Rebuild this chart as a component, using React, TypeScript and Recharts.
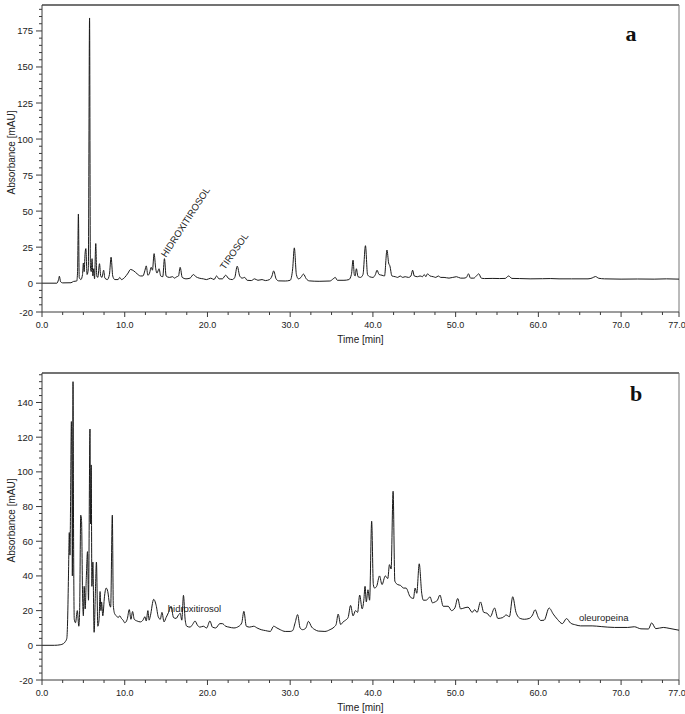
import React from 'react';
import { LineChart, Line, XAxis, YAxis, ReferenceDot, ReferenceLine } from 'recharts';

// panel a: time [min] / absorbance [mAU]
const timeA = [
  0, 1.8, 2.0, 2.1, 2.25, 2.5, 3.5, 3.8, 4.2, 4.3, 4.4, 4.5, 4.7, 4.9, 5.0, 5.1, 5.2, 5.3, 5.45, 5.6,
  5.75, 5.85, 5.95, 6.05, 6.15, 6.25, 6.35, 6.5, 6.62, 6.75, 6.95, 7.1, 7.25, 7.45, 7.6, 7.9, 8.15, 8.35, 8.55, 8.8,
  9.2, 9.4, 9.6, 10.0, 10.4, 10.7, 11.1, 11.5, 11.9, 12.2, 12.45, 12.6, 12.8, 13.0, 13.2, 13.35, 13.55, 13.75, 13.9, 14.15,
  14.35, 14.6, 14.8, 15.0, 15.4, 15.8, 16.0, 16.3, 16.5, 16.7, 16.95, 17.4, 17.9, 18.3, 18.6, 19.0, 19.5, 19.9, 20.4, 20.8,
  21.1, 21.4, 21.8, 22.2, 22.6, 23.0, 23.3, 23.6, 23.9, 24.2, 24.5, 24.8, 25.3, 25.7, 26.1, 26.6, 27.0, 27.5, 27.8, 28.0,
  28.3, 28.6, 29.4, 30.0, 30.3, 30.5, 30.75, 31.0, 31.3, 31.6, 31.95, 32.3, 33.5, 34.8, 35.2, 35.45, 35.7, 36.5, 37.1, 37.4,
  37.6, 37.75, 37.85, 38.0, 38.2, 38.5, 38.8, 39.1, 39.35, 39.6, 40.0, 40.3, 40.5, 40.75, 41.1, 41.4, 41.7, 41.9, 42.05, 42.3,
  42.7, 43.0, 43.3, 43.6, 43.9, 44.3, 44.6, 44.8, 45.0, 45.4, 45.7, 46.0, 46.2, 46.4, 46.6, 46.9, 47.3, 47.6, 47.9, 48.2,
  48.6, 49.2, 50.1, 50.6, 51.0, 51.3, 51.55, 51.8, 52.2, 52.5, 52.8, 53.1, 53.5, 54.5, 55.3, 56.0, 56.4, 56.8, 57.7, 59.0,
  60.5, 61.5, 62.5, 64.0, 66.0, 66.5, 66.9, 67.3, 68.0, 70.0, 72.0, 74.0, 75.5, 77.0,
];
const absA = [
  0, 0, 2.5, 4.8, 1, 0.2, 0.3, 1.2, 1.5, 8, 48, 4, 2.5, 6, 14, 8, 20, 24, 6, 10,
  184, 12, 8, 17, 5, 10, 3, 27.5, 5, 4, 13.5, 5, 4, 9, 3.5, 2.5, 6, 18, 5, 2.5,
  2.5, 4, 2.5, 4, 7, 9.5, 8.5, 6.5, 5, 5, 9, 12, 5.5, 7, 11, 9, 20.5, 10, 7, 10,
  5, 4.5, 17, 5, 4, 4.5, 3.5, 4.5, 5, 11, 4, 3, 3.5, 6, 4.5, 3.5, 3, 2.5, 3.5, 2.5,
  5, 3, 3, 5.5, 3, 2.5, 4, 11.8, 5, 3.5, 4, 2, 1.8, 3, 2, 2.5, 1.8, 2.5, 5, 8.5,
  3, 1.6, 1.5, 2, 10, 24.5, 6, 3, 4, 6.3, 3, 1.6, 1.3, 1.5, 3, 4, 2, 2, 2.5, 6,
  16, 6, 5, 10, 4.5, 4, 6, 26, 6, 4.5, 4, 6, 9, 6, 5.5, 5, 23, 14, 12, 5,
  4.5, 4, 5, 4, 4.5, 4, 5, 9, 5, 4.5, 5, 4.5, 6, 4.5, 6.5, 5, 4.5, 4, 5, 4,
  4, 3.5, 4.5, 3.5, 3.5, 4, 6.5, 3.5, 3.5, 5, 6.5, 3.5, 3.2, 3.3, 3.2, 3.3, 5, 3.3, 3.2, 3,
  3.1, 3.2, 3, 3, 3, 3.6, 4.6, 3.4, 3, 2.8, 2.9, 2.8, 3, 2.8,
];

// panel b
const timeB = [
  0, 1.5, 2.2, 2.6, 2.8, 3.0, 3.1, 3.2, 3.3, 3.38, 3.45, 3.55, 3.62, 3.67, 3.75, 3.82, 3.9, 4.05, 4.27, 4.45,
  4.55, 4.68, 4.78, 4.9, 5.0, 5.1, 5.22, 5.35, 5.5, 5.62, 5.8, 5.86, 5.95, 6.03, 6.15, 6.3, 6.45, 6.58, 6.75, 6.9,
  7.02, 7.12, 7.2, 7.35, 7.55, 7.75, 7.95, 8.15, 8.3, 8.5, 8.62, 8.8, 9.0, 9.2, 9.4, 9.6, 9.8, 10.0, 10.3, 10.55,
  10.75, 10.95, 11.15, 11.5, 11.9, 12.2, 12.45, 12.6, 12.8, 12.95, 13.1, 13.5, 13.8, 14.05, 14.3, 14.5, 14.75, 15.0, 15.3, 15.6,
  15.9, 16.2, 16.5, 16.7, 16.9, 17.1, 17.3, 17.5, 17.9, 18.2, 18.5, 18.8, 19.1, 19.5, 19.9, 20.3, 20.6, 21.0, 21.5, 21.8,
  22.2, 22.6, 23.2, 23.8, 24.15, 24.4, 24.7, 25.1, 25.6, 26.0, 26.5, 27.0, 27.6, 28.0, 28.4, 28.8, 29.4, 30.0, 30.3, 30.6,
  30.9, 31.2, 31.5, 31.9, 32.2, 32.6, 33.0, 33.4, 34.2, 34.8, 35.3, 35.55, 35.8, 36.1, 36.4, 36.7, 37.0, 37.3, 37.6, 37.9,
  38.15, 38.4, 38.7, 38.9, 39.05, 39.2, 39.4, 39.6, 39.85, 40.05, 40.2, 40.45, 40.8, 41.1, 41.5, 41.8, 42.0, 42.2, 42.44, 42.65,
  43.0, 43.35, 43.7, 44.0, 44.5, 44.9, 45.1, 45.3, 45.6, 45.9, 46.1, 46.4, 46.7, 46.9, 47.2, 47.5, 47.8, 48.1, 48.5, 49.1,
  49.5, 49.9, 50.25, 50.6, 51.0, 51.5, 52.0, 52.3, 52.6, 53.0, 53.4, 53.8, 54.2, 54.7, 55.1, 55.7, 56.1, 56.5, 56.9, 57.3,
  57.8, 58.3, 58.9, 59.3, 59.6, 60.0, 60.3, 60.7, 61.3, 61.8, 62.3, 62.9, 63.4, 63.9, 64.5, 65.1, 66.5, 67.6, 69.2, 70.8,
  71.6, 72.4, 73.3, 73.7, 74.2, 75.1, 75.8, 77.0,
];
const absB = [
  0, 0, 0.3, 1, 2, 4, 15, 40, 65, 52, 80, 129, 100, 40, 152, 60, 15, 13, 20, 11,
  20, 75, 72, 30, 17, 34, 21, 38, 54, 26, 124.7, 70, 104, 34, 48, 7.5, 30, 48, 11, 15,
  31, 20, 25, 17, 28, 33, 31, 24, 22, 75, 23, 18, 17, 16, 17, 15.5, 14.5, 13, 15, 20.6,
  15, 19.5, 15, 14, 13.5, 14.5, 16.5, 14, 20, 14.5, 17, 26.5, 23, 16.5, 15, 19, 13.5, 16, 19, 22.5,
  16, 15.5, 17.5, 18.5, 14.5, 28.8, 15, 11, 10.5, 12, 14, 11.5, 10.5, 11, 10, 14, 10.5, 10, 12.5, 12.5,
  11, 10.5, 10, 11, 13, 19.6, 11, 10.5, 11, 10, 9, 8.5, 8, 11, 10, 9, 8, 8, 8.5, 13,
  17.7, 10, 9, 10, 13.8, 10.5, 9, 8.2, 8, 9, 10.5, 12, 18, 12, 13.5, 14.5, 16, 23, 17, 20,
  19, 29, 21, 26, 34, 25, 32, 26, 71.5, 35, 33, 34, 40, 35, 40, 38.5, 46.5, 44, 88.8, 37,
  35, 34.5, 33, 33, 28, 27, 33, 30, 47, 30, 26, 26, 27, 28, 24.5, 25, 26, 29, 22.5, 22.5,
  20, 21.5, 27, 21, 21.5, 22, 19, 20.5, 19, 25, 19, 18.5, 16.5, 21.5, 15.5, 16, 17.5, 16.5, 28, 19,
  15.5, 15, 15.5, 17.5, 20.5, 16, 14.3, 14.5, 21.5, 18, 15, 12.5, 15.4, 12.8, 11.8, 11.2, 11.2, 10.8, 10.3, 10.3,
  10.7, 9.5, 9.4, 12.9, 9.6, 10.3, 9.8, 8.7,
];

const xMajor = [0, 10, 20, 30, 40, 50, 60, 70, 77];
const yMajorA = [-20, 0, 25, 50, 75, 100, 125, 150, 175];
const yMajorB = [-20, 0, 20, 40, 60, 80, 100, 120, 140];

const xTicks = [...Array.from({ length: 31 }, (_, i) => i * 2.5), 77];
const yTicksA = Array.from({ length: 43 }, (_, i) => -20 + i * 5);
const yTicksB = Array.from({ length: 45 }, (_, i) => -20 + i * 4);

const rowsA = timeA.map((t, i) => ({ t, v: absA[i] }));
const rowsB = timeB.map((t, i) => ({ t, v: absB[i] }));

const FONT = '"Liberation Sans", Arial, sans-serif';
const AXIS = '#3a3a3a';

const XTick = (props: any) => {
  const { x, y, payload } = props;
  const v = payload.value as number;
  const major = xMajor.includes(v);
  // last label sits against the right edge, like the original
  const lx = v === 77 ? x - 2 : x;
  return (
    <g>
      <line x1={x} x2={x} y1={y} y2={y + (major ? 5 : 3)} stroke={AXIS} />
      {major && (
        <text x={lx} y={y + 16} textAnchor="middle" fontSize={9} fontFamily={FONT} fill="#222">
          {v.toFixed(1)}
        </text>
      )}
    </g>
  );
};

const makeYTick = (majors: number[]) => (props: any) => {
  const { x, y, payload } = props;
  const v = payload.value as number;
  const major = majors.includes(v);
  return (
    <g>
      <line x1={x - (major ? 6 : 3)} x2={x} y1={y} y2={y} stroke={AXIS} />
      {major && (
        <text x={x - 9} y={y + 3.5} textAnchor="end" fontSize={9.5} fontFamily={FONT} fill="#222">
          {v}
        </text>
      )}
    </g>
  );
};

const rotText = (text: string, angle: number) => (p: any) => (
  <text
    x={p.cx}
    y={p.cy}
    transform={`rotate(${angle} ${p.cx} ${p.cy})`}
    fontSize={9.5}
    fontFamily={FONT}
    fill="#222"
  >
    {text}
  </text>
);

const flatText = (text: string) => (p: any) => (
  <text x={p.cx} y={p.cy} fontSize={9.5} fontFamily={FONT} fill="#222">
    {text}
  </text>
);

interface PanelProps {
  rows: { t: number; v: number }[];
  domain: [number, number];
  yTicks: number[];
  yMajors: number[];
  children?: React.ReactNode;
}

function Panel({ rows, domain, yTicks, yMajors, children }: PanelProps) {
  return (
    <LineChart width={685} height={350} data={rows} margin={{ top: 5, right: 6, bottom: 0, left: 0 }}>
      <XAxis
        dataKey="t"
        type="number"
        domain={[0, 77]}
        ticks={xTicks}
        interval={0}
        tickSize={0}
        tickMargin={0}
        tickLine={false}
        tick={<XTick />}
        height={38}
        allowDataOverflow
        axisLine={{ stroke: AXIS }}
        label={{
          content: (p: any) => (
            <text
              x={p.viewBox.x + p.viewBox.width / 2}
              y={p.viewBox.y + 31}
              textAnchor="middle"
              fontSize={10}
              fontFamily={FONT}
              fill="#222"
            >
              Time [min]
            </text>
          ),
        }}
      />
      <YAxis
        type="number"
        domain={domain}
        ticks={yTicks}
        interval={0}
        tickSize={0}
        tickMargin={0}
        tickLine={false}
        tick={makeYTick(yMajors)}
        width={42}
        allowDataOverflow
        axisLine={{ stroke: AXIS }}
        label={{
          content: (p: any) => {
            const cy = p.viewBox.y + p.viewBox.height / 2 - 6;
            return (
              <text
                x={12}
                y={cy}
                transform={`rotate(-90 12 ${cy})`}
                textAnchor="middle"
                dominantBaseline="middle"
                fontSize={10}
                fontFamily={FONT}
                fill="#222"
              >
                Absorbance [mAU]
              </text>
            );
          },
        }}
      />
      {/* frame: top and right edges */}
      <ReferenceLine y={domain[1]} stroke="#444" strokeWidth={1.5} />
      <ReferenceLine x={77} stroke="#777" strokeWidth={1} />
      <Line
        type="monotoneX"
        dataKey="v"
        stroke="#1a1a1a"
        strokeWidth={1}
        dot={false}
        isAnimationActive={false}
      />
      {children}
    </LineChart>
  );
}

export default function App() {
  return (
    <div style={{ position: 'absolute', left: 0, top: 0, width: 685, height: 714, background: '#fff', overflow: 'hidden' }}>
      <div style={{ position: 'absolute', left: 0, top: 0 }}>
        <Panel rows={rowsA} domain={[-20, 193]} yTicks={yTicksA} yMajors={yMajorA}>
          <ReferenceDot x={15.0} y={17.5} r={0} shape={rotText('HIDROXITIROSOL', -57)} />
          <ReferenceDot x={22.1} y={9} r={0} shape={rotText('TIROSOL', -55)} />
        </Panel>
      </div>
      <div style={{ position: 'absolute', left: 0, top: 368 }}>
        <Panel rows={rowsB} domain={[-20, 157]} yTicks={yTicksB} yMajors={yMajorB}>
          <ReferenceDot x={15.2} y={19.4} r={0} shape={flatText('hidroxitirosol')} />
          <ReferenceDot x={64.9} y={14.2} r={0} shape={flatText('oleuropeina')} />
        </Panel>
      </div>
      <svg width={685} height={714} style={{ position: 'absolute', left: 0, top: 0, pointerEvents: 'none' }}>
        <text x={631} y={41} textAnchor="middle" fontSize={22} fontWeight="bold" fontFamily='"Liberation Serif", "Times New Roman", serif' fill="#111">
          a
        </text>
        <text x={636} y={401} textAnchor="middle" fontSize={22} fontWeight="bold" fontFamily='"Liberation Serif", "Times New Roman", serif' fill="#111">
          b
        </text>
      </svg>
    </div>
  );
}
